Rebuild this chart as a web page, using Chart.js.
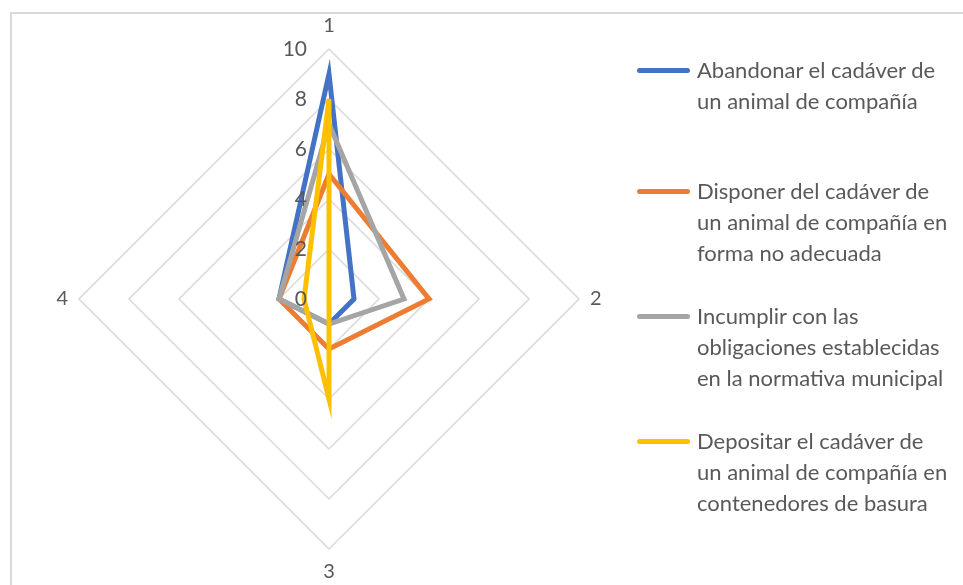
<!DOCTYPE html>
<html>
<head>
<meta charset="utf-8">
<script src="https://cdn.jsdelivr.net/npm/chart.js@4"></script>
<style>
  html, body { margin: 0; padding: 0; background: #fff; overflow: hidden; }
  #frame { position: absolute; left: 10px; top: 12px; width: 1000px; height: 620px;
           border-left: 2px solid #D9D9D9; border-top: 2px solid #D9D9D9; }
  #wrap { position: absolute; left: 0; top: 0; width: 658px; height: 585px; }
  #legend { position: absolute; left: 637px; top: 0; font-family: Lato, "Open Sans", sans-serif;
            font-size: 22px; color: #595959; line-height: 31px; }
  .item { position: absolute; left: 0; white-space: nowrap; }
  .swatch { position: absolute; left: 0; width: 53px; height: 5px; border-radius: 3px; top: 14px; }
  .txt { position: absolute; left: 60px; top: 0; }
</style>
</head>
<body>
<div id="frame"></div>
<div id="wrap"><canvas id="myChart"></canvas></div>
<div id="legend"></div>
<script>
// categories (radar spokes)
var categories = ["1", "2", "3", "4"];
var tickValues = [0, 2, 4, 6, 8, 10];

// series
var seriesNames = [
  ["Abandonar el cadáver de", "un animal de compañía"],
  ["Disponer del cadáver de", "un animal de compañía en", "forma no adecuada"],
  ["Incumplir con las", "obligaciones establecidas", "en la normativa municipal"],
  ["Depositar el cadáver de", "un animal de compañía en", "contenedores de basura"]
];
var abandonar = [9, 1, 1, 2];
var disponer = [5, 4, 2, 2];
var incumplir = [7, 3, 1, 2];
var depositar = [8, 0, 4, 1];
var colors = ['#4472C4', '#ED7D31', '#A5A5A5', '#FFC000'];
var legendTops = [54, 175, 300, 425];

var allSeries = [abandonar, disponer, incumplir, depositar];

// tick labels drawn to the left of spoke 1, like Excel does
var leftTicks = {
  id: 'leftTicks',
  afterDatasetsDraw: function(chart) {
    var r = chart.scales.r;
    var c = chart.ctx;
    c.save();
    c.font = '21px Lato, "Open Sans", sans-serif';
    c.fillStyle = '#595959';
    c.textAlign = 'right';
    c.textBaseline = 'middle';
    tickValues.forEach(function(v) {
      c.fillText(String(v), r.xCenter - 22, r.yCenter - r.getDistanceFromCenterForValue(v));
    });
    c.restore();
  }
};

var ctx = document.getElementById('myChart').getContext('2d');
var chart1 = new Chart(ctx, {
    type: 'radar',
    data: {
        labels: categories,
        datasets: allSeries.map(function(d, i) {
            return {
                label: seriesNames[i].join(' '),
                data: d,
                borderColor: colors[i],
                backgroundColor: 'transparent',
                borderWidth: 5,
                pointRadius: 0,
                fill: false,
                order: allSeries.length - i   // later series drawn on top, like Excel
            };
        })
    },
    options: {
        responsive: true,
        maintainAspectRatio: false,
        animation: false,
        layout: { padding: { top: 14, bottom: 0 } },
        plugins: { legend: { display: false }, tooltip: { enabled: false } },
        scales: {
            r: {
                min: 0,
                max: 10,
                ticks: { stepSize: 2, display: false },
                angleLines: { display: false },
                grid: { color: '#D9D9D9', lineWidth: 1.5 },
                pointLabels: {
                    color: '#595959',
                    padding: 11,
                    font: { family: 'Lato, "Open Sans", sans-serif', size: 20 }
                }
            }
        }
    },
    plugins: [leftTicks]
});

// legend
var lg = document.getElementById('legend');
seriesNames.forEach(function(lines, i) {
    var it = document.createElement('div');
    it.className = 'item';
    it.style.top = legendTops[i] + 'px';
    var sw = document.createElement('div');
    sw.className = 'swatch';
    sw.style.background = colors[i];
    var tx = document.createElement('div');
    tx.className = 'txt';
    tx.innerHTML = lines.join('<br>');
    it.appendChild(sw);
    it.appendChild(tx);
    lg.appendChild(it);
});
</script>
</body>
</html>
